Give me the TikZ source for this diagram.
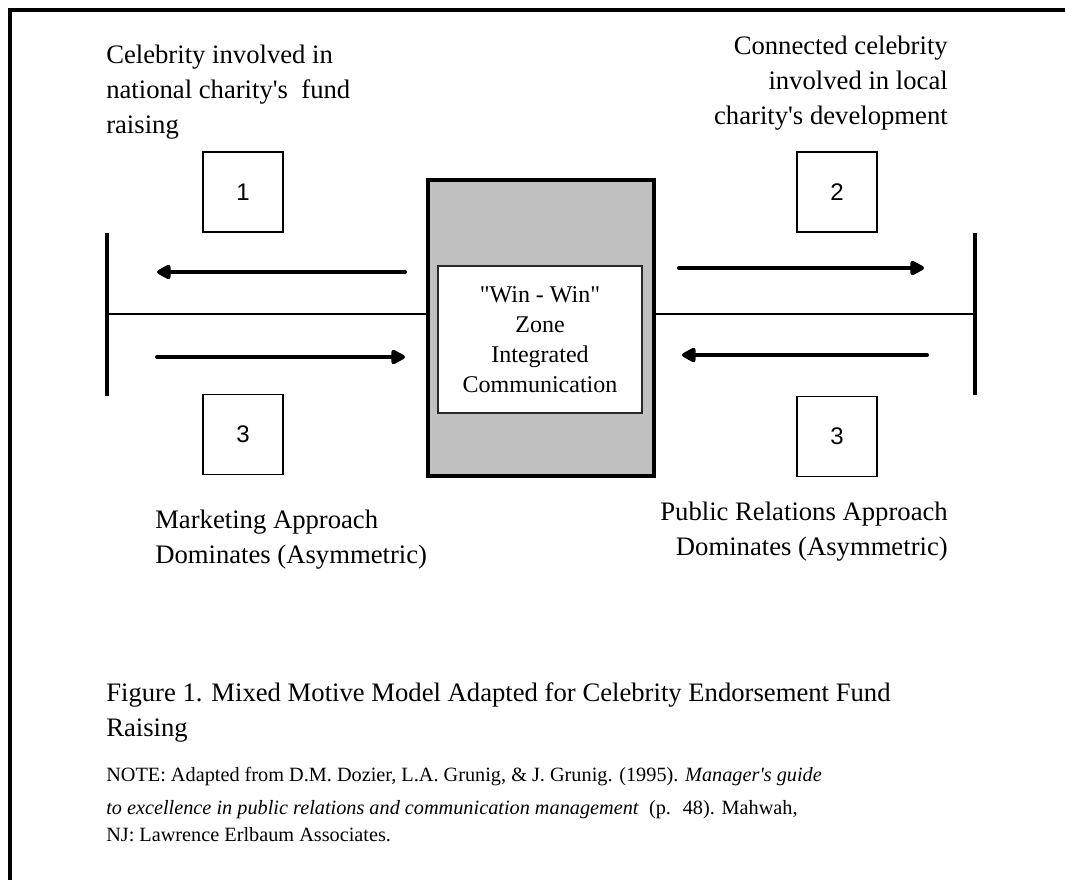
\documentclass[tikz,border=0pt]{standalone}
\usepackage{fontspec}
\setmainfont{Liberation Serif}[Ligatures=TeXOff]
\newfontfamily\numfont{Liberation Sans}
\newfontfamily\notefont{Liberation Serif}[Ligatures=TeXOff]
\usetikzlibrary{arrows.meta}
\begin{document}
\begin{tikzpicture}[x=0.75pt,y=-0.75pt,
  lbl/.style={inner sep=0pt, font=\fontsize{20}{26.25}\selectfont},
  notelbl/.style={inner sep=0pt, anchor=base west, font=\notefont\fontsize{15.2}{18}\selectfont},
  numbox/.style={draw, line width=1.2pt, minimum width=60pt, minimum height=60pt, inner sep=0pt,
    font=\numfont\fontsize{18}{20}\selectfont},
  bar/.style={line width=2.3pt},
  axis/.style={line width=1.9pt},
  flow/.style={line width=3pt, line cap=round, -{Triangle[length=12pt,width=12pt,round=false]}},
]
\useasboundingbox (0,0) rectangle (1065,880);
% frame
\draw[line width=3pt] (10,880) -- (10,10) -- (1065,10);

% central zone
\node[draw, line width=2.3pt, fill={rgb,255:red,192;green,192;blue,192},
      minimum width=169.5pt, minimum height=222pt, inner sep=0pt] (zone) at (541,328) {};
\node[draw={rgb,255:red,40;green,40;blue,40}, line width=1.1pt, fill=white,
      minimum width=153pt, minimum height=110.25pt, inner sep=0pt, align=center,
      font=\fontsize{18}{22.5}\selectfont] (win) at (540,339.5)
      {"Win - Win"\\Zone\\Integrated\\Communication};

% side bars
\coordinate (lbt) at (107,233); \coordinate (lbb) at (107,396); \coordinate (lm) at (107,314);
\coordinate (rbt) at (975,233); \coordinate (rbb) at (975,395); \coordinate (rm) at (975,314);
\draw[bar] (lbt) -- (lbb);
\draw[bar] (rbt) -- (rbb);
\draw[axis] (lm) -- (lm -| zone.west);
\draw[axis] (rm) -- (rm -| zone.east);

% arrows
\coordinate (a1s) at (405,272); \coordinate (a1e) at (157,272);
\coordinate (a2s) at (157,357); \coordinate (a2e) at (405,357);
\coordinate (a3s) at (679,268); \coordinate (a3e) at (924,268);
\coordinate (a4s) at (927,355); \coordinate (a4e) at (682,355);
\draw[flow] (a1s) -- (a1e);
\draw[flow] (a2s) -- (a2e);
\draw[flow] (a3s) -- (a3e);
\draw[flow] (a4s) -- (a4e);

% number boxes
\node[numbox] (n1) at (243,192) {1};
\node[numbox] (n2) at (837,192) {2};
\node[numbox] (n3l) at (243,434.5) {3};
\node[numbox] (n3r) at (837,436.5) {3};

% labels (base anchor = baseline of last line)
\node[lbl, anchor=base west, align=left] (tl) at (106,134)
  {Celebrity involved in\\national charity's~ fund\\raising};
\node[lbl, anchor=base east, align=right] (tr) at (948,125)
  {Connected celebrity\\involved in local\\charity's development};
\node[lbl, anchor=base west, align=left] (bl) at (155,564)
  {Marketing Approach\\Dominates (Asymmetric)};
\node[lbl, anchor=base east, align=right] (br) at (948,556)
  {Public Relations Approach\\Dominates (Asymmetric)};

% caption
\node[lbl, anchor=base west, align=left] (cap) at (106,736)
  {Figure 1. Mixed Motive Model Adapted for Celebrity Endorsement Fund\\Raising};

% note
\node[notelbl] (note1) at (106,781)
  {NOTE: Adapted from D.M. Dozier, L.A. Grunig, \& J. Grunig. (1995). \textit{Manager's guide}};
\node[notelbl] (note2) at (106,814)
  {\textit{to excellence in public relations and communication management}~ (p.~ 48). Mahwah,};
\node[notelbl] (note3) at (106,841)
  {NJ: Lawrence Erlbaum Associates.};
\end{tikzpicture}
\end{document}
